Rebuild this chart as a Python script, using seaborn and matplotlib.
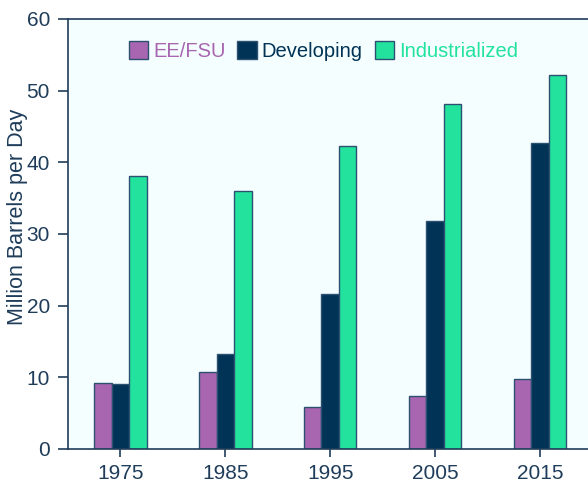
import pandas as pd
import numpy as np
import seaborn as sns
import matplotlib.pyplot as plt

# Valores (milhões de barris por dia)
years = ['1975', '1985', '1995', '2005', '2015']
regions = ['EE/FSU', 'Developing', 'Industrialized']
ee_fsu = [9.2, 10.8, 5.9, 7.4, 9.7]
developing = [9.1, 13.3, 21.6, 31.8, 42.7]
industrialized = [38.1, 36.0, 42.3, 48.1, 52.2]

colors = ['#A866B0', '#003355', '#22E29E']
text_color = '#1F3D5A'

df = pd.DataFrame({
    'year': years * 3,
    'region': np.repeat(regions, len(years)),
    'value': ee_fsu + developing + industrialized,
})

sns.set_style('white')
plt.rcParams['font.family'] = ['Liberation Sans', 'DejaVu Sans']

fig = plt.figure(figsize=(5.88, 4.83), dpi=100)
ax = fig.add_axes([0.1156, 0.0704, 0.892, 0.8903])
ax.set_facecolor('#F5FEFF')

sns.barplot(data=df, x='year', y='value', hue='region', order=years, hue_order=regions,
            palette=colors, width=0.5, edgecolor='#2B5070', linewidth=1.0,
            saturation=1, ax=ax)

ax.set_ylim(0, 60)
ax.set_xlim(-0.5, 4.5)
ax.set_yticks(range(0, 61, 10))
ax.set_xlabel('')
ax.set_ylabel('Million Barrels per Day', fontsize=15.5, color=text_color)
ax.yaxis.set_label_coords(-0.076, 0.54)
ax.tick_params(axis='both', direction='out', width=1.2, color=text_color,
               labelsize=15, labelcolor=text_color, left=True, bottom=True)
ax.tick_params(axis='y', length=7, pad=6)
ax.tick_params(axis='x', length=6, pad=5)
for side in ['left', 'top', 'bottom', 'right']:
    ax.spines[side].set_color(text_color)
    ax.spines[side].set_linewidth(1.2)

# Legenda com texto na cor de cada série
ax.get_legend().remove()
leg = ax.legend(loc='center left', bbox_to_anchor=(0.219, 0.894), bbox_transform=fig.transFigure,
                ncol=3, frameon=False, fontsize=14.5, borderaxespad=0, borderpad=0,
                handlelength=0.95, handleheight=0.95, handletextpad=0.25, columnspacing=0.6)
for txt, c in zip(leg.get_texts(), colors):
    txt.set_color(c)

fig.savefig('out.png', dpi=100)
